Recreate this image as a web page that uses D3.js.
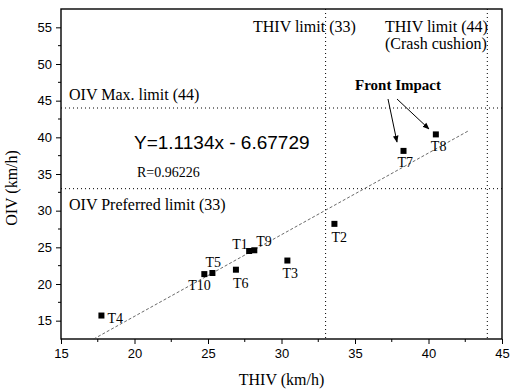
<!DOCTYPE html>
<head>
  <meta charset="utf-8">
  <script src="https://d3js.org/d3.v7.min.js"></script>
  <style>
    body { margin:0; background:#fff; }
    .tick text { font-family:"Liberation Sans", Arial, sans-serif; font-size:13px; fill:#000; }
    .serif { font-family:"Liberation Serif", "Times New Roman", serif; fill:#000; }
  </style>
</head>
<body>
<div id=figure></div>
<script>
// tests: THIV (km/h) and OIV (km/h)
var tests = ["T1","T2","T3","T4","T5","T6","T7","T8","T9","T10"];
var thiv  = [27.8, 33.6, 30.4, 17.75, 25.3, 26.9, 38.3, 40.5, 28.15, 24.75];
var oiv   = [24.5, 28.2, 23.2, 15.7, 21.5, 21.95, 38.15, 40.4, 24.6, 21.35];

// fit: Y = 1.1134x - 6.67729
var slope = 1.1134, intercept = -6.67729;
var fitRange = [17.22, 42.7];

var xTicks = [15, 20, 25, 30, 35, 40, 45];
var yTicks = [15, 20, 25, 30, 35, 40, 45, 50, 55];
var thivLimits = [33, 44];
var oivLimits = [44, 33];

var margin = {top: 9, right: 14, bottom: 52, left: 61};
var W = 516, H = 391;
var width = W - margin.left - margin.right;
var height = H - margin.top - margin.bottom;

var svg = d3.select("#figure").append("svg")
  .attr("width", W).attr("height", H)
  .append("g")
  .attr("transform", "translate(" + margin.left + "," + margin.top + ")");

var x = d3.scaleLinear().domain([15, 45]).range([0, width]);
var y = d3.scaleLinear().domain([12.5, 57.5]).range([height, 0]);

// minor ticks
svg.selectAll(".mx").data(d3.range(17.5, 45, 5)).enter().append("line")
  .attr("x1", d => x(d)).attr("x2", d => x(d))
  .attr("y1", height).attr("y2", height + 3)
  .attr("stroke", "#000");
svg.selectAll(".my").data(d3.range(17.5, 57.5, 5)).enter().append("line")
  .attr("y1", d => y(d)).attr("y2", d => y(d))
  .attr("x1", 0).attr("x2", -3)
  .attr("stroke", "#000");

svg.append("g")
  .attr("transform", "translate(0," + height + ")")
  .call(d3.axisBottom(x).tickValues(xTicks).tickSize(5).tickSizeOuter(0).tickPadding(5))
  .call(g => g.select(".domain").remove());

svg.append("g")
  .call(d3.axisLeft(y).tickValues(yTicks).tickSize(5).tickSizeOuter(0).tickPadding(4))
  .call(g => g.select(".domain").remove());

// frame
svg.append("rect")
  .attr("width", width).attr("height", height)
  .attr("fill", "none").attr("stroke", "#000").attr("stroke-width", 1.4);

// limit lines
svg.selectAll(".vlim").data(thivLimits).enter().append("line")
  .attr("x1", d => x(d)).attr("x2", d => x(d))
  .attr("y1", 0).attr("y2", height)
  .attr("stroke", "#000").attr("stroke-width", 1).attr("stroke-dasharray", "1,3");
svg.selectAll(".hlim").data(oivLimits).enter().append("line")
  .attr("y1", d => y(d)).attr("y2", d => y(d))
  .attr("x1", 0).attr("x2", width)
  .attr("stroke", "#000").attr("stroke-width", 1).attr("stroke-dasharray", "1,3");

// regression line
svg.append("line")
  .attr("x1", x(fitRange[0])).attr("y1", y(slope * fitRange[0] + intercept))
  .attr("x2", x(fitRange[1])).attr("y2", y(slope * fitRange[1] + intercept))
  .attr("stroke", "#444").attr("stroke-width", 0.8).attr("stroke-dasharray", "3,2");

// points
var pts = tests.map((t, i) => ({id: t, x: thiv[i], y: oiv[i]}));
svg.selectAll(".pt").data(pts).enter().append("rect")
  .attr("x", d => x(d.x) - 3).attr("y", d => y(d.y) - 3)
  .attr("width", 6).attr("height", 6).attr("fill", "#000");

// label offsets (px) relative to point
var labOff = {T1:[-17,-2], T2:[-3,18], T3:[-5,17], T4:[6,7], T5:[-7,-6],
  T6:[-3,18], T7:[-6,16], T8:[-5,17], T9:[2,-4], T10:[-16,16]};
svg.selectAll(".lab").data(pts).enter().append("text")
  .attr("class", "serif").style("font-size", "14px")
  .attr("x", d => x(d.x) + labOff[d.id][0])
  .attr("y", d => y(d.y) + labOff[d.id][1])
  .text(d => d.id);

function label(txt, px, py, size, weight) {
  svg.append("text").attr("class", "serif")
    .attr("x", px - margin.left).attr("y", py - margin.top)
    .style("font-size", size + "px").style("font-weight", weight || "normal")
    .text(txt);
}
label("THIV limit (33)", 253, 32, 16);
label("THIV limit (44)", 385, 32, 16);
label("(Crash cushion)", 385, 49, 16);
label("Front Impact", 355, 90, 15, "bold");
label("OIV Max. limit (44)", 69, 100, 16);
label("R=0.96226", 137, 177, 14);
label("OIV Preferred limit (33)", 69, 210, 16);

svg.append("text")
  .attr("x", 134 - margin.left).attr("y", 149 - margin.top)
  .style("font-family", "'Liberation Sans', Arial, sans-serif").style("font-size", "19px")
  .text("Y=1.1134x - 6.67729");

// arrows
var defs = svg.append("defs");
defs.append("marker").attr("id", "ah").attr("viewBox", "0 0 10 10")
  .attr("refX", 9).attr("refY", 5).attr("markerWidth", 7).attr("markerHeight", 7)
  .attr("orient", "auto")
  .append("path").attr("d", "M0,1 L10,5 L0,9 Z").attr("fill", "#000");
[[388, 99, 397, 142], [397, 99, 429, 129]].forEach(function(a) {
  svg.append("line")
    .attr("x1", a[0] - margin.left).attr("y1", a[1] - margin.top)
    .attr("x2", a[2] - margin.left).attr("y2", a[3] - margin.top)
    .attr("stroke", "#000").attr("stroke-width", 1).attr("marker-end", "url(#ah)");
});

// axis titles
svg.append("text").attr("class", "serif")
  .attr("x", width / 2).attr("y", height + 46)
  .attr("text-anchor", "middle").style("font-size", "16px")
  .text("THIV (km/h)");
svg.append("text").attr("class", "serif")
  .attr("transform", "translate(" + (-44) + "," + (y(35) + 14) + ") rotate(-90)")
  .attr("text-anchor", "middle").style("font-size", "16px")
  .text("OIV (km/h)");
</script>
</body>
